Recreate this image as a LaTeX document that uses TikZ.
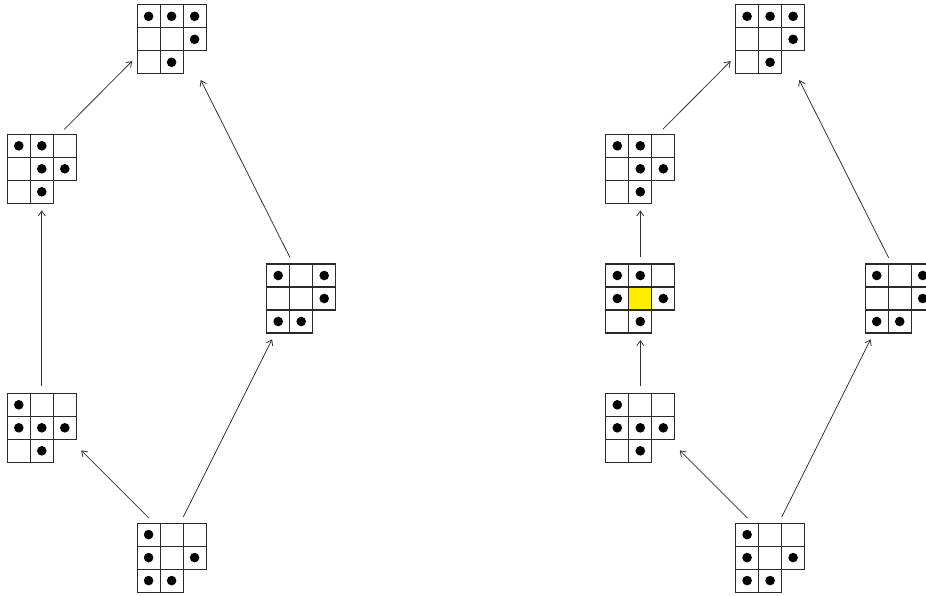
\documentclass[tikz,border=0pt]{standalone}
\usetikzlibrary{arrows.meta, calc}
\definecolor{cellgray}{HTML}{2A2A2A}
\definecolor{hlyellow}{HTML}{FFEE00}

% one diagram: name, centre, list of dots (col/row)
\newcommand{\ydiag}[3]{%
  \node[ybox] (#1) at (#2) {};
  \begin{scope}[shift={(#1.north west)}]
    \foreach \c/\r in {1/1,2/1,3/1,1/2,2/2,3/2,1/3,2/3}
      \draw[cell] ({(\c-1)*23},{(\r-1)*23}) rectangle +(23,23);
    \foreach \c/\r in {#3}
      \fill[dot] ({(\c-.5)*23},{(\r-.5)*23}) circle (4.8);
  \end{scope}}

\begin{document}
\begin{tikzpicture}[x=1pt, y=-1pt,
  ybox/.style={rectangle, minimum width=69pt, minimum height=69pt, inner sep=0pt, outer sep=0pt},
  cell/.style={draw=cellgray, line width=1.2pt},
  dot/.style={black},
  arr/.style={-{Straight Barb[length=5pt, width=7pt]}, line width=0.8pt, black!80, shorten <=7pt, shorten >=7pt}]

\useasboundingbox (0,0) rectangle (926,595);
\clip (0,0) rectangle (926,595);

% =========== LEFT ===========
\ydiag{t1}{171.6,39.3}{1/1,2/1,3/1,3/2,2/3}
\ydiag{ul1}{41.8,168.8}{1/1,2/1,2/2,3/2,2/3}
\ydiag{ll1}{41.8,427.8}{1/1,1/2,2/2,3/2,2/3}
\ydiag{r1}{301.2,298.5}{1/1,3/1,3/2,1/3,2/3}
\ydiag{b1}{171.6,557.6}{1/1,1/2,3/2,1/3,2/3}

\draw[arr] (b1.117) -- (ll1.-27);
\draw[arr] (b1.76) -- (r1.-127);
\draw[arr] (ll1.north) -- (ul1.south);
\draw[arr] (ul1.63) -- (t1.206);
\draw[arr] (r1.103) -- (t1.-53);

% =========== RIGHT ===========
\ydiag{t2}{770.1,39.3}{1/1,2/1,3/1,3/2,2/3}
\ydiag{ul2}{640.3,168.8}{1/1,2/1,2/2,3/2,2/3}
\ydiag{m2}{640.3,298.5}{1/1,2/1,1/2,3/2,2/3}
\filldraw[cell, fill=hlyellow] ($(m2.center)+(-11.5,-11.5)$) rectangle +(23,23);
\ydiag{ll2}{640.3,427.8}{1/1,1/2,2/2,3/2,2/3}
\ydiag{r2}{899.7,298.5}{1/1,3/1,3/2,1/3,2/3}
\ydiag{b2}{770.1,557.6}{1/1,1/2,3/2,1/3,2/3}

\draw[arr] (b2.117) -- (ll2.-27);
\draw[arr] (b2.76) -- (r2.-127);
\draw[arr] (ll2.north) -- (m2.south);
\draw[arr] (m2.north) -- (ul2.south);
\draw[arr] (ul2.63) -- (t2.206);
\draw[arr] (r2.103) -- (t2.-53);

\end{tikzpicture}
\end{document}
